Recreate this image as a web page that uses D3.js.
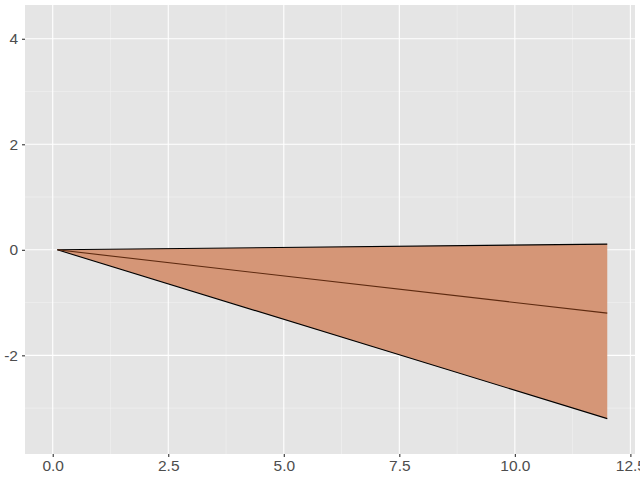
<!DOCTYPE html>
<html><head><meta charset="utf-8">
<script src="https://cdn.jsdelivr.net/npm/d3@7"></script>
<style>body{margin:0;background:#fff;} text{font-family:"Liberation Sans",Arial,sans-serif;}</style>
</head><body><svg id="c" width="640" height="480"></svg>
<script>
const xVals = [0.1, 12];
const upperVals = [0.0, 0.108];
const midVals = [0.0, -1.2];
const lowerVals = [0.0, -3.2];
const xTicks = [0, 2.5, 5, 7.5, 10, 12.5];
const xTickLabels = ["0.0", "2.5", "5.0", "7.5", "10.0", "12.5"];
const yTicks = [-2, 0, 2, 4];
const yTickLabels = ["-2", "0", "2", "4"];

const svg = d3.select("#c");
const L = 25, R = 635, T = 5, B = 454;
const x = d3.scaleLinear().domain([-0.6, 12.6]).range([L, R]);
const y = d3.scaleLinear().domain([-3.87, 4.64]).range([B, T]);

svg.append("rect").attr("x", L).attr("y", T).attr("width", R - L).attr("height", B - T).attr("fill", "#E5E5E5");

const g = svg.append("g");
const minorX = [1.25, 3.75, 6.25, 8.75, 11.25];
const minorY = [-3, -1, 1, 3];
minorX.forEach(v => g.append("line").attr("x1", x(v)).attr("x2", x(v)).attr("y1", T).attr("y2", B).attr("stroke", "#F2F2F2").attr("stroke-width", 0.6));
minorY.forEach(v => g.append("line").attr("y1", y(v)).attr("y2", y(v)).attr("x1", L).attr("x2", R).attr("stroke", "#F2F2F2").attr("stroke-width", 0.6));
xTicks.forEach(v => g.append("line").attr("x1", x(v)).attr("x2", x(v)).attr("y1", T).attr("y2", B).attr("stroke", "#fff").attr("stroke-width", 1.1));
yTicks.forEach(v => g.append("line").attr("y1", y(v)).attr("y2", y(v)).attr("x1", L).attr("x2", R).attr("stroke", "#fff").attr("stroke-width", 1.1));

const data = xVals.map((xv, i) => ({x: xv, lo: lowerVals[i], hi: upperVals[i], mid: midVals[i]}));
const area = d3.area().x(d => x(d.x)).y0(d => y(d.lo)).y1(d => y(d.hi));
svg.append("path").datum(data).attr("d", area).attr("fill", "#D59677");
const line = acc => d3.line().x(d => x(d.x)).y(d => y(acc(d)));
svg.append("path").datum(data).attr("d", line(d => d.hi)).attr("fill", "none").attr("stroke", "#000").attr("stroke-width", 1.1);
svg.append("path").datum(data).attr("d", line(d => d.lo)).attr("fill", "none").attr("stroke", "#000").attr("stroke-width", 1.1);
svg.append("path").datum(data).attr("d", line(d => d.mid)).attr("fill", "none").attr("stroke", "#5E2A10").attr("stroke-width", 1.1);

// axes
const xAxis = d3.axisBottom(x).tickValues(xTicks).tickFormat((d, i) => xTickLabels[i]).tickSize(3).tickPadding(3);
const xa = svg.append("g").attr("transform", `translate(0,${B})`).call(xAxis);
xa.select(".domain").remove();
xa.selectAll("line").attr("stroke", "#333").attr("stroke-width", 1.1);
xa.selectAll("text").attr("fill", "#4D4D4D").style("font-size", "15.5px").style("font-family", "Liberation Sans, Arial, sans-serif");

const yAxis = d3.axisLeft(y).tickValues(yTicks).tickFormat((d, i) => yTickLabels[i]).tickSize(3).tickPadding(4);
const ya = svg.append("g").attr("transform", `translate(${L},0)`).call(yAxis);
ya.select(".domain").remove();
ya.selectAll("line").attr("stroke", "#333").attr("stroke-width", 1.1);
ya.selectAll("text").attr("fill", "#4D4D4D").style("font-size", "15.5px").style("font-family", "Liberation Sans, Arial, sans-serif");
</script></body></html>
